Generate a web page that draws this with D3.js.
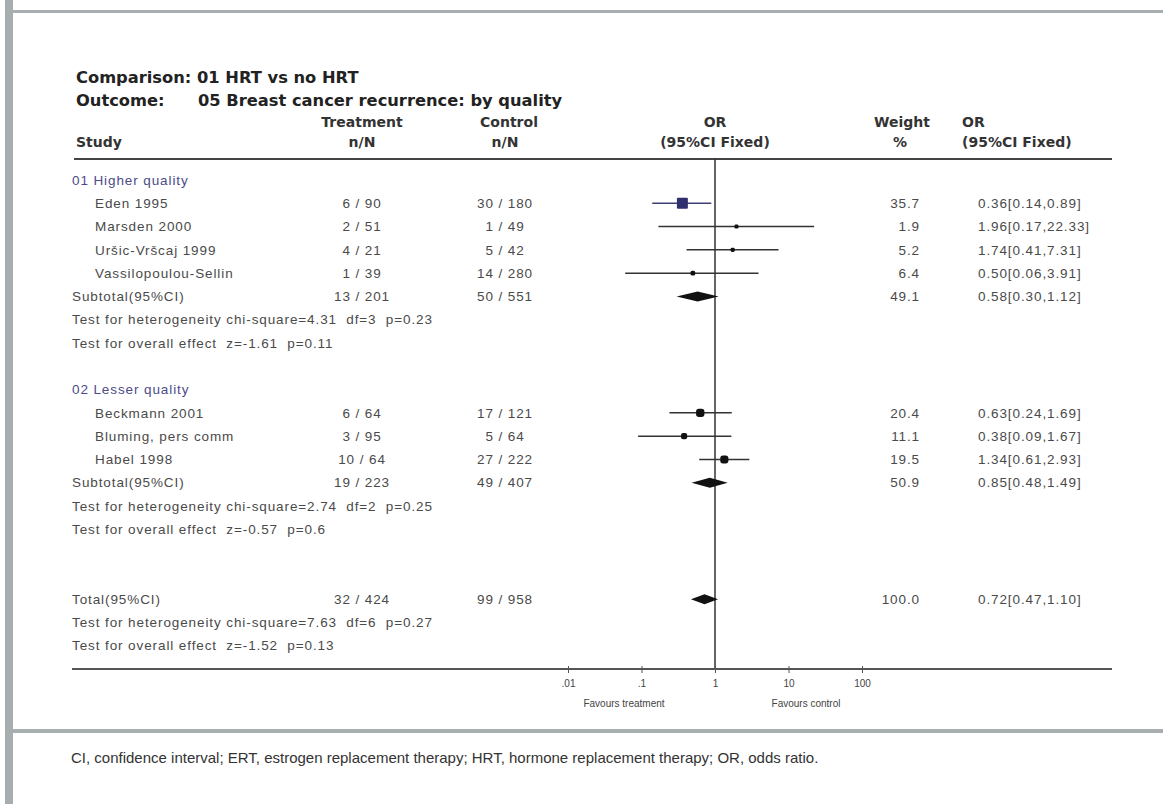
<!DOCTYPE html>
<html>
<head>
<meta charset="utf-8">
<script src="https://cdn.jsdelivr.net/npm/d3@7"></script>
<style>
  body { margin: 0; background: #fff; }
  svg { display: block; }
  text { white-space: pre; }
</style>
</head>
<body>
<svg id="chart"></svg>
<script>
// ---- data ----
const groupNames = ['01 Higher quality', '02 Lesser quality'];
const studyNames = ['Eden 1995', 'Marsden 2000', 'Uršic-Vršcaj 1999', 'Vassilopoulou-Sellin',
  'Beckmann 2001', 'Bluming, pers comm', 'Habel 1998'];
const studyGroup = [0, 0, 0, 0, 1, 1, 1];
const treatEvents = [6, 2, 4, 1, 6, 3, 10];
const treatTotal = [90, 51, 21, 39, 64, 95, 64];
const ctrlEvents = [30, 1, 5, 14, 17, 5, 27];
const ctrlTotal = [180, 49, 42, 280, 121, 64, 222];
const studyOR = [0.36, 1.96, 1.74, 0.50, 0.63, 0.38, 1.34];
const studyLo = [0.14, 0.17, 0.41, 0.06, 0.24, 0.09, 0.61];
const studyHi = [0.89, 22.33, 7.31, 3.91, 1.69, 1.67, 2.93];
const studyWeight = [35.7, 1.9, 5.2, 6.4, 20.4, 11.1, 19.5];

const subOR = [0.58, 0.85];
const subLo = [0.30, 0.48];
const subHi = [1.12, 1.49];
const subWeight = [49.1, 50.9];
const subHet = ['chi-square=4.31  df=3  p=0.23', 'chi-square=2.74  df=2  p=0.25'];
const subEffect = ['z=-1.61  p=0.11', 'z=-0.57  p=0.6'];

const totalOR = 0.72, totalLo = 0.47, totalHi = 1.10, totalWeight = 100.0;
const totalHet = 'chi-square=7.63  df=6  p=0.27';
const totalEffect = 'z=-1.52  p=0.13';

const tickValues = [0.01, 0.1, 1, 10, 100];
const tickLabels = ['.01', '.1', '1', '10', '100'];

// ---- svg ----
const width = 1163, height = 804;
const svg = d3.select('#chart').attr('width', width).attr('height', height);

//Grey page frame
const frame = '#a8aeb0';
svg.append('rect').attr('x', 5).attr('y', 0).attr('width', 8).attr('height', height).attr('fill', frame);
svg.append('rect').attr('x', 13).attr('y', 10).attr('width', width - 13).attr('height', 3).attr('fill', frame);
svg.append('rect').attr('x', 13).attr('y', 729).attr('width', width - 13).attr('height', 4).attr('fill', frame);

const bodyFont = '"Liberation Sans", Arial, sans-serif';
const boldFont = '"DejaVu Sans", Verdana, sans-serif';
const textCol = '#4a4a4a';

//Build the row list (row index -> y)
const rows = [];
let r = 0;
groupNames.forEach((g, gi) => {
  rows.push({ type: 'group', i: r++, label: g });
  studyNames.forEach((s, si) => {
    if (studyGroup[si] === gi) rows.push({ type: 'study', i: r++, si });
  });
  rows.push({ type: 'sub', i: r++, gi });
  rows.push({ type: 'text', i: r++, label: 'Test for heterogeneity ' + subHet[gi] });
  rows.push({ type: 'text', i: r++, label: 'Test for overall effect  ' + subEffect[gi] });
  r++;
});
r++;
rows.push({ type: 'total', i: r++ });
rows.push({ type: 'text', i: r++, label: 'Test for heterogeneity ' + totalHet });
rows.push({ type: 'text', i: r++, label: 'Test for overall effect  ' + totalEffect });
const axisRow = r;

const y = d3.scaleLinear().domain([0, axisRow]).range([180, 669]);
const x = d3.scaleLog().domain([0.01, 100]).range([568, 862]);
const size = d3.scaleSqrt().domain([0, 36]).range([0, 11]);

const colTreat = 362, colCtrl = 505, colWeight = 920, colOR = 978;
const left = 72, right = 1112;

// titles
const title = svg.append('g').attr('font-family', boldFont).attr('font-weight', 'bold')
  .attr('font-size', 16.3).attr('fill', '#222');
title.append('text').attr('x', 76).attr('y', 83).text('Comparison:');
title.append('text').attr('x', 197).attr('y', 83).text('01 HRT vs no HRT');
title.append('text').attr('x', 76).attr('y', 106).text('Outcome:');
title.append('text').attr('x', 198).attr('y', 106).text('05 Breast cancer recurrence: by quality');

// column headers
const head = svg.append('g').attr('font-family', boldFont).attr('font-weight', 'bold')
  .attr('font-size', 14).attr('fill', '#333');
const headers = [
  { x: colTreat, y: 127, t: 'Treatment', a: 'middle' },
  { x: colTreat, y: 147, t: 'n/N', a: 'middle' },
  { x: colCtrl + 4, y: 127, t: 'Control', a: 'middle' },
  { x: colCtrl, y: 147, t: 'n/N', a: 'middle' },
  { x: x(1), y: 127, t: 'OR', a: 'middle' },
  { x: x(1), y: 147, t: '(95%CI Fixed)', a: 'middle' },
  { x: 902, y: 127, t: 'Weight', a: 'middle' },
  { x: 900, y: 147, t: '%', a: 'middle' },
  { x: 962, y: 127, t: 'OR', a: 'start' },
  { x: 962, y: 147, t: '(95%CI Fixed)', a: 'start' },
  { x: 76, y: 147, t: 'Study', a: 'start' },
];
head.selectAll('text').data(headers).join('text')
  .attr('x', (d) => d.x).attr('y', (d) => d.y)
  .attr('text-anchor', (d) => d.a).text((d) => d.t);

// header rule
svg.append('line').attr('x1', left + 2).attr('x2', right).attr('y1', 159).attr('y2', 159)
  .attr('stroke', '#444').attr('stroke-width', 2);

// vertical no-effect line
svg.append('line').attr('x1', x(1)).attr('x2', x(1)).attr('y1', 159).attr('y2', y(axisRow))
  .attr('stroke', '#333').attr('stroke-width', 1.5);

const body = svg.append('g').attr('font-family', bodyFont).attr('font-size', 13.5)
  .attr('letter-spacing', 0.9).attr('fill', textCol);

const addText = (tx, ty, t, anchor = 'start', fill = textCol) =>
  body.append('text').attr('x', tx).attr('y', ty).attr('dy', '0.35em')
    .attr('text-anchor', anchor).attr('fill', fill).text(t);

const fmtOR = (o, l, h) => `${o.toFixed(2)}[${l.toFixed(2)},${h.toFixed(2)}]`;

const diamond = (o, l, h, yy) => {
  const hh = 5;
  svg.append('path')
    .attr('d', `M${x(l)},${yy} L${x(o)},${yy - hh} L${x(h)},${yy} L${x(o)},${yy + hh} Z`)
    .attr('fill', '#111');
};

rows.forEach((row) => {
  const yy = y(row.i);
  if (row.type === 'group') {
    addText(72, yy, row.label, 'start', '#4b4b88');
  } else if (row.type === 'text') {
    addText(72, yy, row.label);
  } else if (row.type === 'study') {
    const s = row.si;
    addText(95, yy, studyNames[s]);
    addText(colTreat, yy, `${treatEvents[s]} / ${treatTotal[s]}`, 'middle');
    addText(colCtrl, yy, `${ctrlEvents[s]} / ${ctrlTotal[s]}`, 'middle');
    addText(colWeight, yy, studyWeight[s].toFixed(1), 'end');
    addText(colOR, yy, fmtOR(studyOR[s], studyLo[s], studyHi[s]));
    const big = s === 0;
    svg.append('line').attr('x1', x(studyLo[s])).attr('x2', x(studyHi[s]))
      .attr('y1', yy).attr('y2', yy)
      .attr('stroke', big ? '#3e3e70' : '#333').attr('stroke-width', 1.5);
    const w = Math.max(4, size(studyWeight[s]));
    svg.append('rect').attr('x', x(studyOR[s]) - w / 2).attr('y', yy - w / 2)
      .attr('width', w).attr('height', w)
      .attr('rx', big ? 1 : w / 3)
      .attr('fill', big ? '#2f2f6e' : '#111');
  } else if (row.type === 'sub') {
    const g = row.gi;
    const idx = studyGroup.map((sg, k) => (sg === g ? k : -1)).filter((k) => k >= 0);
    addText(72, yy, 'Subtotal(95%CI)');
    addText(colTreat, yy, `${d3.sum(idx, (k) => treatEvents[k])} / ${d3.sum(idx, (k) => treatTotal[k])}`, 'middle');
    addText(colCtrl, yy, `${d3.sum(idx, (k) => ctrlEvents[k])} / ${d3.sum(idx, (k) => ctrlTotal[k])}`, 'middle');
    addText(colWeight, yy, subWeight[g].toFixed(1), 'end');
    addText(colOR, yy, fmtOR(subOR[g], subLo[g], subHi[g]));
    diamond(subOR[g], subLo[g], subHi[g], yy);
  } else if (row.type === 'total') {
    addText(72, yy, 'Total(95%CI)');
    addText(colTreat, yy, `${d3.sum(treatEvents)} / ${d3.sum(treatTotal)}`, 'middle');
    addText(colCtrl, yy, `${d3.sum(ctrlEvents)} / ${d3.sum(ctrlTotal)}`, 'middle');
    addText(colWeight, yy, totalWeight.toFixed(1), 'end');
    addText(colOR, yy, fmtOR(totalOR, totalLo, totalHi));
    diamond(totalOR, totalLo, totalHi, yy);
  }
});

// bottom axis
const axisY = y(axisRow);
svg.append('line').attr('x1', left).attr('x2', right).attr('y1', axisY).attr('y2', axisY)
  .attr('stroke', '#555').attr('stroke-width', 2);

const xAxis = d3.axisBottom(x).tickValues(tickValues)
  .tickFormat((d, i) => tickLabels[i]).tickSize(4).tickPadding(7);
const ax = svg.append('g').attr('transform', `translate(0, ${axisY})`).call(xAxis);
ax.select('.domain').remove();
ax.selectAll('line').attr('stroke', '#555').attr('y1', -3);
ax.selectAll('text').attr('font-family', bodyFont).attr('font-size', 10).attr('fill', '#444');

svg.append('text').attr('x', x(1) - 91).attr('y', 707).attr('text-anchor', 'middle')
  .attr('font-family', bodyFont).attr('font-size', 10).attr('fill', '#444').text('Favours treatment');
svg.append('text').attr('x', x(1) + 91).attr('y', 707).attr('text-anchor', 'middle')
  .attr('font-family', bodyFont).attr('font-size', 10).attr('fill', '#444').text('Favours control');

// footnote
svg.append('text').attr('x', 71).attr('y', 763)
  .attr('font-family', bodyFont)
  .attr('font-size', 15).attr('fill', '#333')
  .text('CI, confidence interval; ERT, estrogen replacement therapy; HRT, hormone replacement therapy; OR, odds ratio.');
</script>
</body>
</html>
